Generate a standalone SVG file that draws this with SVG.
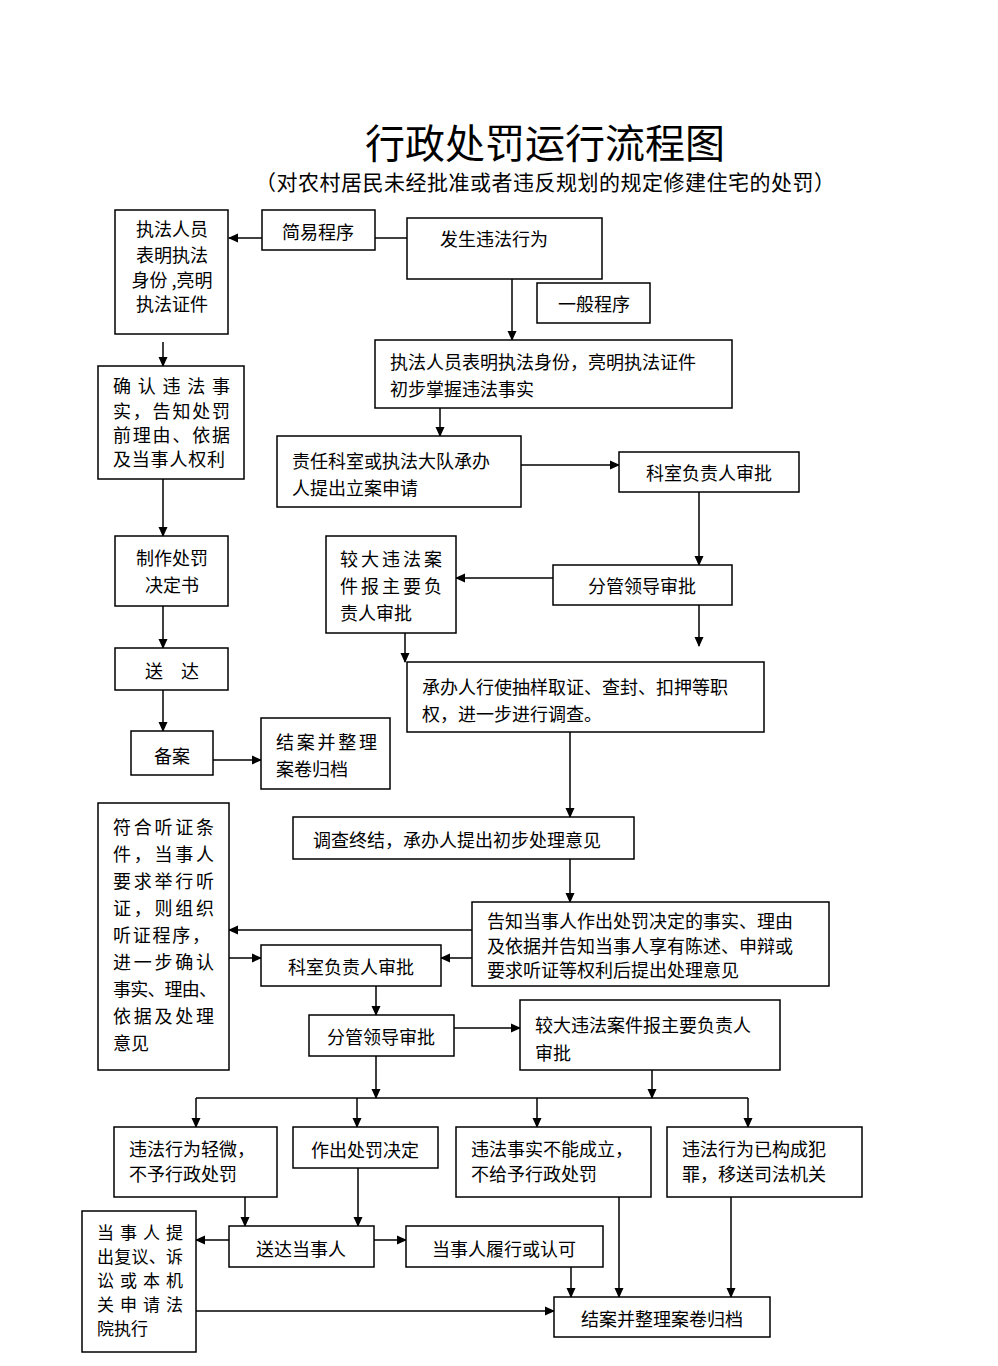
<svg xmlns="http://www.w3.org/2000/svg" width="998" height="1366" viewBox="0 0 998 1366">
<style>
rect.b{fill:#fff;stroke:#000;stroke-width:1.5}
text{font-family:"Noto Sans CJK SC","Noto Sans",sans-serif;fill:#000}
.t{font-size:18px;dominant-baseline:central}
.s{font-size:17px}
.c{text-anchor:middle}
.ln{stroke:#000;stroke-width:1.5;fill:none}
</style>
<defs>
<marker id="ah" markerWidth="10" markerHeight="10" refX="9" refY="5" orient="auto" markerUnits="userSpaceOnUse"><path d="M0,0.5 L10,5 L0,9.5 Z" fill="#000"/></marker>
</defs>
<rect width="998" height="1366" fill="#fff"/>
<g id="title">
<text x="545" y="158" font-size="40" text-anchor="middle">行政处罚运行流程图</text>
<text x="255" y="190" font-size="21" textLength="580" lengthAdjust="spacing">（对农村居民未经批准或者违反规划的规定修建住宅的处罚）</text>
</g>
<g id="connectors">
<line class="ln" x1="375" y1="238" x2="407" y2="238"/>
<line class="ln" x1="262" y1="238" x2="229" y2="238" marker-end="url(#ah)"/>
<line class="ln" x1="512" y1="279" x2="512" y2="340" marker-end="url(#ah)"/>
<line class="ln" x1="440" y1="408" x2="440" y2="436" marker-end="url(#ah)"/>
<line class="ln" x1="521" y1="465" x2="619" y2="465" marker-end="url(#ah)"/>
<line class="ln" x1="699" y1="492" x2="699" y2="565" marker-end="url(#ah)"/>
<line class="ln" x1="553" y1="578" x2="456" y2="578" marker-end="url(#ah)"/>
<line class="ln" x1="405" y1="633" x2="405" y2="662" marker-end="url(#ah)"/>
<line class="ln" x1="699" y1="605" x2="699" y2="646" marker-end="url(#ah)"/>
<line class="ln" x1="570" y1="732" x2="570" y2="817" marker-end="url(#ah)"/>
<line class="ln" x1="570" y1="859" x2="570" y2="902" marker-end="url(#ah)"/>
<line class="ln" x1="472" y1="930" x2="229" y2="930" marker-end="url(#ah)"/>
<line class="ln" x1="472" y1="958" x2="441" y2="958" marker-end="url(#ah)"/>
<line class="ln" x1="229" y1="958" x2="261" y2="958" marker-end="url(#ah)"/>
<line class="ln" x1="376" y1="986" x2="376" y2="1015" marker-end="url(#ah)"/>
<line class="ln" x1="454" y1="1028" x2="520" y2="1028" marker-end="url(#ah)"/>
<line class="ln" x1="376" y1="1056" x2="376" y2="1098" marker-end="url(#ah)"/>
<line class="ln" x1="652" y1="1070" x2="652" y2="1098" marker-end="url(#ah)"/>
<line class="ln" x1="196" y1="1098" x2="748" y2="1098"/>
<line class="ln" x1="196" y1="1098" x2="196" y2="1127" marker-end="url(#ah)"/>
<line class="ln" x1="357" y1="1098" x2="357" y2="1127" marker-end="url(#ah)"/>
<line class="ln" x1="537" y1="1098" x2="537" y2="1127" marker-end="url(#ah)"/>
<line class="ln" x1="748" y1="1098" x2="748" y2="1127" marker-end="url(#ah)"/>
<line class="ln" x1="245" y1="1197" x2="245" y2="1226" marker-end="url(#ah)"/>
<line class="ln" x1="358" y1="1168" x2="358" y2="1226" marker-end="url(#ah)"/>
<line class="ln" x1="229" y1="1240" x2="196" y2="1240" marker-end="url(#ah)"/>
<line class="ln" x1="374" y1="1240" x2="406" y2="1240" marker-end="url(#ah)"/>
<line class="ln" x1="196" y1="1311" x2="554" y2="1311" marker-end="url(#ah)"/>
<line class="ln" x1="571" y1="1267" x2="571" y2="1297" marker-end="url(#ah)"/>
<line class="ln" x1="619" y1="1197" x2="619" y2="1297" marker-end="url(#ah)"/>
<line class="ln" x1="731" y1="1197" x2="731" y2="1297" marker-end="url(#ah)"/>
<line class="ln" x1="163" y1="342" x2="163" y2="366" marker-end="url(#ah)"/>
<line class="ln" x1="163" y1="479" x2="163" y2="536" marker-end="url(#ah)"/>
<line class="ln" x1="163" y1="606" x2="163" y2="648" marker-end="url(#ah)"/>
<line class="ln" x1="163" y1="690" x2="163" y2="731" marker-end="url(#ah)"/>
<line class="ln" x1="213" y1="760" x2="261" y2="760" marker-end="url(#ah)"/>
</g>
<g id="n_zfry1"><rect class="b" x="115" y="210" width="113" height="124"/>
<text class="t c" x="172" y="228">执法人员</text><text class="t c" x="172" y="254">表明执法</text><text class="t c" x="172" y="279">身份 ,亮明</text><text class="t c" x="172" y="303">执法证件</text></g>
<g id="n_jycx"><rect class="b" x="262" y="210" width="113" height="40"/><text class="t c" x="318" y="231">简易程序</text></g>
<g id="n_fswf"><rect class="b" x="407" y="218" width="195" height="61"/><text class="t" x="440" y="238">发生违法行为</text></g>
<g id="n_ybcx"><rect class="b" x="537" y="283" width="113" height="40"/><text class="t c" x="594" y="303">一般程序</text></g>
<g id="n_zfry2"><rect class="b" x="375" y="340" width="357" height="68"/><text class="t" x="390" y="361">执法人员表明执法身份，亮明执法证件</text><text class="t" x="390" y="388">初步掌握违法事实</text></g>
<g id="n_zrks"><rect class="b" x="277" y="436" width="244" height="71"/><text class="t" x="292" y="460">责任科室或执法大队承办</text><text class="t" x="292" y="487">人提出立案申请</text></g>
<g id="n_ksfz1"><rect class="b" x="619" y="452" width="180" height="40"/><text class="t c" x="709" y="472">科室负责人审批</text></g>
<g id="n_fgld1"><rect class="b" x="553" y="565" width="179" height="40"/><text class="t c" x="642" y="585">分管领导审批</text></g>
<g id="n_jdwf1"><rect class="b" x="326" y="536" width="130" height="97"/><text class="t" x="340" y="558" textLength="102" lengthAdjust="spacing">较大违法案</text><text class="t" x="340" y="585" textLength="102" lengthAdjust="spacing">件报主要负</text><text class="t" x="340" y="612">责人审批</text></g>
<g id="n_cbr"><rect class="b" x="407" y="662" width="357" height="70"/><text class="t" x="422" y="686">承办人行使抽样取证、查封、扣押等职</text><text class="t" x="422" y="713">权，进一步进行调查。</text></g>
<g id="n_dczj"><rect class="b" x="293" y="817" width="341" height="42"/><text class="t" x="313" y="839">调查终结，承办人提出初步处理意见</text></g>
<g id="n_gz"><rect class="b" x="472" y="902" width="357" height="84"/><text class="t" x="487" y="920">告知当事人作出处罚决定的事实、理由</text><text class="t" x="487" y="945">及依据并告知当事人享有陈述、申辩或</text><text class="t" x="487" y="969">要求听证等权利后提出处理意见</text></g>
<g id="n_ksfz2"><rect class="b" x="261" y="945" width="180" height="41"/><text class="t c" x="351" y="966">科室负责人审批</text></g>
<g id="n_fhtz"><rect class="b" x="98" y="803" width="131" height="267"/>
<text class="t" x="113" y="826" textLength="101" lengthAdjust="spacing">符合听证条</text>
<text class="t" x="113" y="853" textLength="101" lengthAdjust="spacing">件，当事人</text>
<text class="t" x="113" y="880" textLength="101" lengthAdjust="spacing">要求举行听</text>
<text class="t" x="113" y="907" textLength="101" lengthAdjust="spacing">证，则组织</text>
<text class="t" x="113" y="934" textLength="97" lengthAdjust="spacing">听证程序，</text>
<text class="t" x="113" y="961" textLength="101" lengthAdjust="spacing">进一步确认</text>
<text class="t" x="113" y="988" textLength="104" lengthAdjust="spacing">事实、理由、</text>
<text class="t" x="113" y="1015" textLength="101" lengthAdjust="spacing">依据及处理</text>
<text class="t" x="113" y="1042">意见</text></g>
<g id="n_fgld2"><rect class="b" x="309" y="1015" width="145" height="41"/><text class="t c" x="381" y="1036">分管领导审批</text></g>
<g id="n_jdwf2"><rect class="b" x="520" y="1000" width="260" height="70"/><text class="t" x="535" y="1024">较大违法案件报主要负责人</text><text class="t" x="535" y="1052">审批</text></g>
<g id="n_qw"><rect class="b" x="114" y="1127" width="163" height="70"/><text class="t" x="129" y="1148">违法行为轻微，</text><text class="t" x="129" y="1173">不予行政处罚</text></g>
<g id="n_zccf"><rect class="b" x="293" y="1127" width="145" height="41"/><text class="t c" x="365" y="1149">作出处罚决定</text></g>
<g id="n_bncl"><rect class="b" x="456" y="1127" width="195" height="70"/><text class="t" x="471" y="1148">违法事实不能成立，</text><text class="t" x="471" y="1173">不给予行政处罚</text></g>
<g id="n_fz"><rect class="b" x="667" y="1127" width="195" height="70"/><text class="t" x="682" y="1148">违法行为已构成犯</text><text class="t" x="682" y="1173">罪，移送司法机关</text></g>
<g id="n_sddsr"><rect class="b" x="229" y="1226" width="145" height="41"/><text class="t c" x="301" y="1248">送达当事人</text></g>
<g id="n_lx"><rect class="b" x="406" y="1226" width="197" height="41"/><text class="t c" x="504" y="1248">当事人履行或认可</text></g>
<g id="n_tcfy"><rect class="b" x="82" y="1211" width="114" height="141"/>
<text class="t s" x="97" y="1231" textLength="86" lengthAdjust="spacing">当事人提</text>
<text class="t s" x="97" y="1255" textLength="86" lengthAdjust="spacing">出复议、诉</text>
<text class="t s" x="97" y="1279" textLength="86" lengthAdjust="spacing">讼或本机</text>
<text class="t s" x="97" y="1303" textLength="86" lengthAdjust="spacing">关申请法</text>
<text class="t s" x="97" y="1327">院执行</text></g>
<g id="n_ja2"><rect class="b" x="554" y="1297" width="216" height="40"/><text class="t c" x="662" y="1318">结案并整理案卷归档</text></g>
<g id="n_qr"><rect class="b" x="98" y="366" width="146" height="113"/>
<text class="t" x="113" y="385" textLength="117" lengthAdjust="spacing">确认违法事</text>
<text class="t" x="113" y="410" textLength="117" lengthAdjust="spacing">实，告知处罚</text>
<text class="t" x="113" y="434" textLength="117" lengthAdjust="spacing">前理由、依据</text>
<text class="t" x="113" y="458" textLength="112" lengthAdjust="spacing">及当事人权利</text></g>
<g id="n_zzcf"><rect class="b" x="115" y="536" width="113" height="70"/><text class="t c" x="172" y="557">制作处罚</text><text class="t c" x="172" y="584">决定书</text></g>
<g id="n_sd"><rect class="b" x="115" y="648" width="113" height="42"/><text class="t c" x="172" y="670">送　达</text></g>
<g id="n_ba"><rect class="b" x="131" y="731" width="82" height="44"/><text class="t c" x="172" y="755">备案</text></g>
<g id="n_ja1"><rect class="b" x="261" y="718" width="129" height="71"/><text class="t" x="276" y="741" textLength="101" lengthAdjust="spacing">结案并整理</text><text class="t" x="276" y="768">案卷归档</text></g>
</svg>
